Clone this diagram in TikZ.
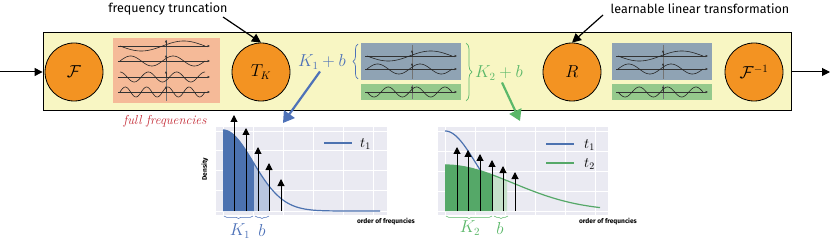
\documentclass[tikz,border=0pt]{standalone}
\usepackage{fontspec}
\setsansfont{Fira Sans}
\usetikzlibrary{arrows.meta,decorations.pathreplacing,calc}
\definecolor{boxyellow}{HTML}{F8F6C3}
\definecolor{orng}{HTML}{F39322}
\definecolor{salmon}{HTML}{F5BA98}
\definecolor{bgray}{HTML}{8FA3B4}
\definecolor{lgreen}{HTML}{95C98C}
\definecolor{kblue}{HTML}{4E72B8}
\definecolor{kgreen}{HTML}{5CB86A}
\definecolor{fred}{HTML}{C42B36}
\definecolor{plotbg}{HTML}{EAEAF2}
\definecolor{sblue}{HTML}{4C72B0}
\definecolor{sbluel}{HTML}{B8C6E0}
\definecolor{sgreen}{HTML}{55A868}
\definecolor{sgreenl}{HTML}{C6E0CA}
\newcommand{\mywave}[5]{%
  \draw[axisln] (#1-2,#3) -- (#2+5,#3);
  \draw[waveln] plot[domain=#1:#2, samples=90, smooth] (\x,{#3+5*sin(#5+(360*#4/(#2-#1))*(\x-#1))});
}
\newcommand{\myup}[2]{\draw[axisln] (#1,#2) -- (#1,#2-6);}
\begin{document}
\begin{tikzpicture}[x=1pt,y=-1pt,
  circ/.style={circle, draw=black, line width=0.8pt, fill=orng, minimum size=58pt, inner sep=0pt, font=\fontsize{16}{16}\selectfont},
  lbl/.style={font=\sffamily\fontsize{12.5}{14}\selectfont, inner sep=1pt},
  bigarr/.style={line width=1.2pt, -{Triangle[length=9pt,width=9pt]}},
  ioarr/.style={line width=1pt, -{Triangle[length=8pt,width=8pt]}},
  colarr/.style={line width=2.2pt, -{Triangle[length=11pt,width=13pt]}},
  waveln/.style={line width=0.6pt, black!85},
  axisln/.style={line width=0.5pt, black!80, -{Latex[length=2.5pt,width=2.5pt]}},
  vline/.style={line width=0.6pt, black!55},
  darr/.style={line width=1pt, -{Triangle[length=7pt,width=7pt]}},
  gridln/.style={white, line width=0.6pt},
  tinybrace/.style={decorate, decoration={brace, amplitude=2.5pt}, line width=0.5pt},
  axlbl/.style={font=\sffamily\bfseries\fontsize{6.6}{7}\selectfont, inner sep=0pt},
  mathlbl/.style={font=\fontsize{16}{16}\selectfont, inner sep=0pt},
  leglbl/.style={font=\fontsize{14}{14}\selectfont, anchor=west, inner sep=0pt}
]
\useasboundingbox (0,0) rectangle (830,243);

% main box
\node[draw=black, line width=0.8pt, fill=boxyellow, minimum width=748pt, minimum height=78pt, inner sep=0pt] (box) at (417,71) {};
\coordinate (in) at (0,72);
\coordinate (out) at (830,72);
\draw[ioarr] (in) -- (box.west |- in);
\draw[ioarr] (box.east |- out) -- (out);

% circles
\node[circ] (F) at (74,72) {$\mathcal{F}$};
\node[circ] (T) at (261,72) {$T_K$};
\node[circ] (R) at (572,72) {$R$};
\node[circ] (Fi) at (754,72) {$\mathcal{F}^{\mathrm{-1}}$};

% salmon box
\fill[salmon] (113,38) rectangle (220,103);
\draw[vline] (166,40) -- (166,101);
\mywave{120}{205}{46}{1}{0}
\mywave{120}{205}{61}{2}{180}
\mywave{120}{205}{77}{3}{270}
\mywave{120}{205}{92}{4}{180}
\myup{166}{46}\myup{166}{61}\myup{166}{77}\myup{166}{92}

% middle boxes
\fill[bgray] (361,43) rectangle (461,80);
\fill[lgreen] (361,84) rectangle (461,100);
\draw[vline] (412,45) -- (412,79);
\draw[vline] (412,85) -- (412,99);
\mywave{367}{452}{56}{1}{0}
\mywave{367}{452}{69}{2}{180}
\mywave{367}{452}{92}{3}{0}
\myup{412}{56}\myup{412}{69}\myup{412}{92}

% right boxes
\fill[bgray] (612,43) rectangle (712,80);
\fill[lgreen] (612,84) rectangle (712,100);
\draw[vline] (663,45) -- (663,79);
\draw[vline] (663,85) -- (663,99);
\mywave{618}{703}{56}{1}{0}
\mywave{618}{703}{69}{2}{180}
\mywave{618}{703}{92}{3}{0}
\myup{663}{56}\myup{663}{69}\myup{663}{92}

% braces and K labels
\draw[kblue, decorate, decoration={brace, amplitude=5pt}, line width=0.7pt] (358,79) -- (358,44);
\draw[kgreen, decorate, decoration={brace, amplitude=6pt}, line width=0.7pt] (466,43) -- (466,101);
\node[mathlbl, text=kblue] (k1) at (322,62) {$K_1 + b$};
\node[mathlbl, text=kgreen] (k2) at (499,73) {$K_2 + b$};

% top labels
\node[lbl] (ft) at (168,9) {frequency truncation};
\node[lbl] (llt) at (700,9) {learnable linear transformation};
\coordinate (fts) at (223,17);
\draw[bigarr] (fts) -- (T.north);
\coordinate (lls) at (603,15);
\draw[bigarr] (lls) -- (R.north);

% full frequencies
\node[font=\itshape\fontsize{13}{14}\selectfont, text=fred, inner sep=0pt] (ff) at (165,121) {full frequencies};

% plot 1
\fill[plotbg] (216,127) rectangle (387,215);
\foreach \gx in {223,253,283,313,343,373} \draw[gridln] (\gx,127) -- (\gx,215);
\foreach \gy in {131,150,170,190,211} \draw[gridln] (216,\gy) -- (387,\gy);
\fill[sblue] plot[domain=223:254, samples=40] (\x,{211-81*exp(-((\x-223)/42.43)^2)}) -- (254,211) -- (223,211) -- cycle;
\fill[sbluel] plot[domain=254:269, samples=20] (\x,{211-81*exp(-((\x-223)/42.43)^2)}) -- (269,211) -- (254,211) -- cycle;
\draw[sblue, line width=1.2pt] plot[domain=223:380, samples=100] (\x,{211-81*exp(-((\x-223)/42.43)^2)});
\foreach \ax/\at in {234/115,246/128,258/147,269/163,281/179} \draw[darr] (\ax,211) -- (\ax,\at);
\coordinate (p1) at (283,123);
\draw[sblue, line width=1.2pt] (324,143) -- (352,143);
\node[leglbl] (t1a) at (360,144) {$t_1$};
\node[axlbl, rotate=90] (dens) at (205,169) {Density};
\node[axlbl] (of1) at (386,222) {order of frequncies};
\draw[kblue, tinybrace] (253,216) -- (224,216);
\draw[kblue, tinybrace] (269,216) -- (255,216);
\node[mathlbl, text=kblue] (kk1) at (240,231) {$K_1$};
\node[mathlbl, text=kblue] (bb1) at (262,230) {$b$};

% plot 2
\fill[plotbg] (438,127) rectangle (608,215);
\foreach \gx in {445,475,505,535,565,595} \draw[gridln] (\gx,127) -- (\gx,215);
\foreach \gy in {131,151,171,191,211} \draw[gridln] (438,\gy) -- (608,\gy);
\draw[sblue, line width=1.2pt] plot[domain=445:486, samples=40] (\x,{211-80*exp(-((\x-445)/43.01)^2)});
\fill[sgreen] plot[domain=445:492, samples=40] (\x,{211-46*exp(-((\x-445)/96.17)^2)}) -- (492,211) -- (445,211) -- cycle;
\fill[sgreenl] plot[domain=492:507, samples=20] (\x,{211-46*exp(-((\x-445)/96.17)^2)}) -- (507,211) -- (492,211) -- cycle;
\draw[sgreen, line width=1.2pt] plot[domain=445:600, samples=100] (\x,{211-46*exp(-((\x-445)/96.17)^2)});
\foreach \ax/\at in {457/147,468/150,480/154,492/160,503/166,515/172} \draw[darr] (\ax,211) -- (\ax,\at);
\coordinate (p2) at (520,121);
\draw[sblue, line width=1.2pt] (546,144) -- (574,144);
\draw[sgreen, line width=1.2pt] (546,163) -- (574,163);
\node[leglbl] (t1b) at (584,145) {$t_1$};
\node[leglbl] (t2b) at (584,164) {$t_2$};
\node[axlbl] (of2) at (608,222) {order of frequncies};
\draw[kgreen, tinybrace] (492,216) -- (446,216);
\draw[kgreen, tinybrace] (508,216) -- (494,216);
\node[mathlbl, text=kgreen] (kk2) at (470,228) {$K_2$};
\node[mathlbl, text=kgreen] (bb2) at (500,228) {$b$};

% coloured arrows
\draw[colarr, kblue] ($(k1.south)+(-2,2)$) -- (p1);
\draw[colarr, kgreen] ($(k2.south)+(3,2)$) -- (p2);
\end{tikzpicture}
\end{document}
